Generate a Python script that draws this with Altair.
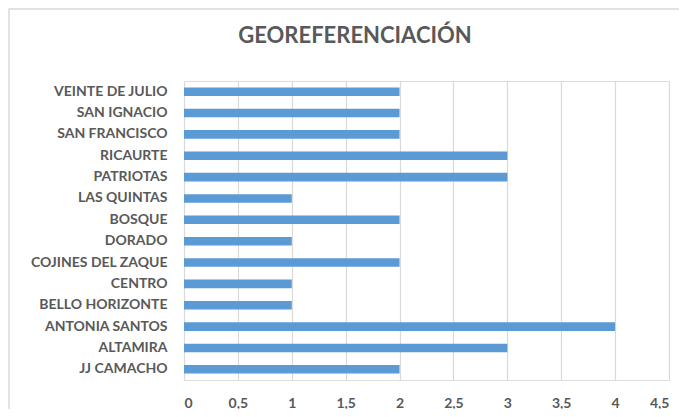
import altair as alt
import pandas as pd

categories = ["VEINTE DE JULIO", "SAN IGNACIO", "SAN FRANCISCO", "RICAURTE", "PATRIOTAS",
              "LAS QUINTAS", "BOSQUE", "DORADO", "COJINES DEL ZAQUE", "CENTRO",
              "BELLO HORIZONTE", "ANTONIA SANTOS", "ALTAMIRA", "JJ CAMACHO"]
values = [2, 2, 2, 3, 3, 1, 2, 1, 2, 1, 1, 4, 3, 2]
x_ticks = [0, 0.5, 1, 1.5, 2, 2.5, 3, 3.5, 4, 4.5]
title_text = "GEOREFERENCIACIÓN"

df = pd.DataFrame({"barrio": categories, "valor": values})

FONT = "Lato"
GRAY = "#595959"

border = alt.Chart(pd.DataFrame({"a": [0]})).mark_rect(
    fill=None, stroke="#d9d9d9", strokeWidth=1.5
).encode(
    x=alt.value(-175), x2=alt.value(520), y=alt.value(-72), y2=alt.value(345)
)

title = alt.Chart(pd.DataFrame({"t": [title_text]})).mark_text(
    font=FONT, fontSize=22, fontWeight="bold", color=GRAY, align="center", baseline="alphabetic"
).encode(text="t:N", x=alt.value(171), y=alt.value(-38))

bars = alt.Chart(df).mark_bar(color="#5b9bd5").encode(
    y=alt.Y("barrio:N", sort=categories,
            scale=alt.Scale(paddingInner=0.6, paddingOuter=0.3),
            axis=alt.Axis(title=None, domain=False, ticks=False, labelFont=FONT,
                          labelFontSize=14, labelFontWeight="bold", labelColor=GRAY,
                          labelPadding=17, grid=False)),
    x=alt.X("valor:Q", scale=alt.Scale(domain=[0, 4.5], nice=False),
            axis=alt.Axis(title=None, values=x_ticks, format=",.1~f", domain=False, ticks=False,
                          labelFont=FONT, labelFontSize=14, labelFontWeight="bold",
                          labelColor=GRAY, labelBaseline="alphabetic", labelPadding=27,
                          gridColor="#d9d9d9", gridWidth=1.2,
                          labelExpr="replace(datum.label, '.', ',')"))
)

chart = alt.layer(border, bars, title).properties(
    width=485, height=299,
    autosize=alt.AutoSizeParams(type="none"),
    padding={"left": 176, "top": 73, "right": 10, "bottom": 29}
).configure_view(stroke=None).configure(background="white")

chart.save("out.html", embed_options={"renderer": "svg", "actions": False})
